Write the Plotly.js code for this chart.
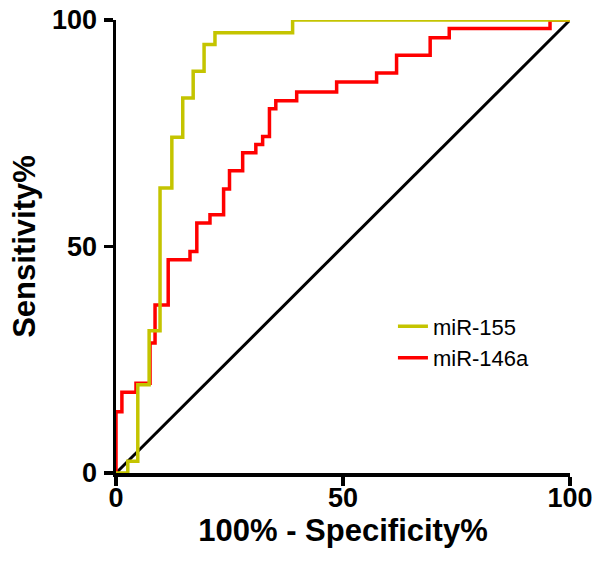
<!DOCTYPE html>
<html>
<head>
<meta charset="utf-8">
<script src="https://cdn.plot.ly/plotly-3.0.1.min.js"></script>
<style>
  html, body { margin: 0; padding: 0; background: #fff; }
  #chart { width: 600px; height: 571px; }
</style>
</head>
<body>
<div id="chart"></div>
<script>
// ROC curve data (step vertices, 'hv' shape)
const seriesNames = ["miR-155", "miR-146a"];
const mir155X = [0, 2.6, 4.8, 7.3, 9.7, 12.3, 14.7, 17.0, 19.4, 21.8, 38.9, 100];
const mir155Y = [0, 2.6, 19.5, 31.4, 62.9, 74.1, 82.8, 88.7, 94.6, 97.2, 100, 100];
const mir146aX = [0, 0, 1.3, 4.4, 7.5, 8.6, 11.5, 16.3, 17.8, 20.7, 23.7, 25.0, 27.9, 30.8, 32.3, 33.8, 35.2, 39.8, 48.6, 57.4, 61.8, 69.2, 73.4, 95.6, 100];
const mir146aY = [0, 13.5, 17.8, 19.8, 28.7, 37.1, 47.1, 48.9, 55.2, 57.0, 62.7, 66.7, 70.7, 72.5, 74.3, 80.4, 82.2, 84.1, 86.3, 88.3, 92.2, 96.1, 98.1, 100, 100];
const refX = [0, 100];
const refY = [0, 100];
const tickVals = [0, 50, 100];
const tickText = ["0", "50", "100"];

const font = "Liberation Sans, Arial, sans-serif";

const traces = [
  { x: refX, y: refY, mode: "lines", line: { color: "#000000", width: 3 }, showlegend: false, hoverinfo: "skip", cliponaxis: false },
  { x: mir146aX, y: mir146aY, name: seriesNames[1], mode: "lines", line: { color: "#ff0000", width: 3.5, shape: "hv" }, cliponaxis: false },
  { x: mir155X, y: mir155Y, name: seriesNames[0], mode: "lines", line: { color: "#c4c400", width: 3.5, shape: "hv" }, cliponaxis: false }
];

const axisCommon = {
  range: [0, 100],
  tickvals: tickVals,
  ticktext: tickText,
  ticks: "outside",
  ticklen: 9,
  tickwidth: 3.5,
  tickcolor: "#000",
  showline: true,
  linecolor: "#000",
  linewidth: 3.5,
  showgrid: false,
  zeroline: false,
  automargin: false,
  tickfont: { family: font, size: 27, color: "#000", weight: "bold" }
};

const layout = {
  width: 600,
  height: 571,
  margin: { l: 116, r: 30, t: 20, b: 98 },
  paper_bgcolor: "#fff",
  plot_bgcolor: "#fff",
  xaxis: Object.assign({}, axisCommon, {
    ticklabelstandoff: -11,
    title: { text: "100% - Specificity%", font: { family: font, size: 31, color: "#000", weight: "bold" }, standoff: 0 }
  }),
  yaxis: Object.assign({}, axisCommon, {
    ticklabelstandoff: 1,
    title: { text: "Sensitivity%", font: { family: font, size: 31, color: "#000", weight: "bold" }, standoff: 8 }
  }),
  legend: {
    x: 0.61, y: 0.37, xanchor: "left", yanchor: "top",
    traceorder: "reversed",
    font: { family: font, size: 22, color: "#000" },
    bgcolor: "rgba(0,0,0,0)",
    tracegroupgap: 0
  },
  showlegend: true
};

Plotly.newPlot("chart", traces, layout, { staticPlot: true, displayModeBar: false });
</script>
</body>
</html>
